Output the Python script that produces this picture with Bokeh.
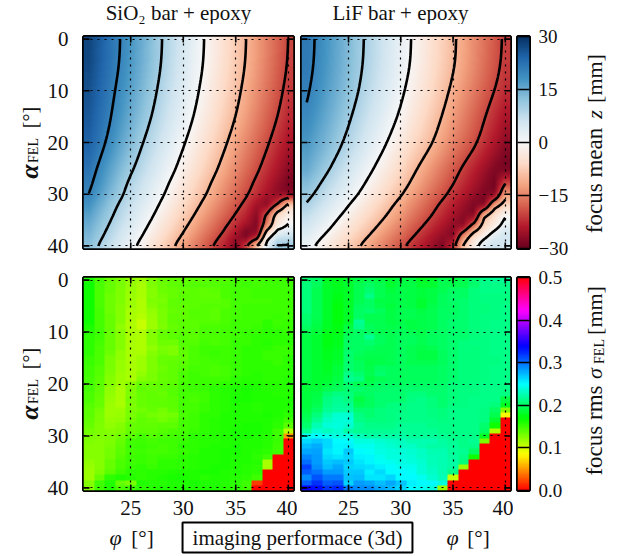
import numpy as np
from bokeh.plotting import figure
from bokeh.models import Range1d, FixedTicker, LinearColorMapper, Label
from bokeh.layouts import column, row
from bokeh.embed import file_html
from bokeh.resources import INLINE

phi_centres = list(range(21, 41))
alpha_rows_mean = [0, 5, 10, 15, 20, 25, 28, 30, 32, 34, 36, 38, 40]
phi_ticks = [25, 30, 35, 40]
alpha_ticks = [0, 10, 20, 30, 40]
mean_ticks = [30, 15, 0, -15, -30]
rms_ticks = [0.0, 0.1, 0.2, 0.3, 0.4, 0.5]
contour_levels = [-20, -10, 0, 10, 20]
title_left = "SiO₂ bar + epoxy"
title_right = "LiF bar + epoxy"
box_text = "imaging performace (3d)"

# focus mean z [mm], rows are alpha_rows_mean, columns phi 21..40
mean_sio2 = [
 [27.5,25,22.5,20,17.5,15,12.5,10,7.5,5,2.5,0,-2.5,-5,-7.5,-10,-12.5,-15,-17.5,-20],
 [27.25,24.75,22.25,19.75,17.25,14.75,12.25,9.75,7.25,4.75,2.25,-0.25,-2.75,-5.25,-7.75,-10.25,-12.75,-15.25,-17.75,-20.25],
 [26.25,23.75,21.25,18.75,16.25,13.75,11.25,8.75,6.25,3.75,1.25,-1.25,-3.75,-6.25,-8.75,-11.25,-13.75,-16.25,-18.75,-21.25],
 [25.5,23,20.4,17.7,15,12.5,10,7.5,5,2.5,0,-2.5,-5,-7.5,-10,-12.5,-15,-17.5,-20,-22.5],
 [24.5,21.8,19,16,13.2,10.5,8,5.5,3,0.5,-2,-4.5,-7,-9.5,-12,-14.5,-17,-19.5,-22,-24.5],
 [22.3,19.3,16.2,13.4,10.75,8.25,5.75,3.25,0.75,-1.75,-4.25,-6.75,-9.25,-11.75,-14.25,-16.75,-19.25,-21.75,-24.25,-26.75],
 [21,18,14.8,11.8,9,6.5,4,1.5,-1,-3.5,-6,-8.5,-11,-13.5,-16,-18.5,-21,-23.5,-26,-28.5],
 [20,16.8,13.6,10.9,8,5.5,3,0.5,-2,-4.5,-7,-9.5,-12,-14.5,-17,-19.5,-22,-24.5,-27,-28],
 [18.2,15,12,9.4,6.9,4.3,1.8,-0.8,-3.3,-5.9,-8.4,-11,-13.5,-16.1,-18.6,-21.2,-25,-28,-20,-7],
 [16.5,13.5,10.9,8.3,5.7,3.1,0.5,-2.1,-4.7,-7.3,-9.9,-12.5,-15.1,-17.7,-20.3,-22.9,-27,-18,-5,-2],
 [15,12.3,9.7,7,4.4,1.7,-0.9,-3.6,-6.2,-8.9,-11.5,-14.2,-16.8,-19.5,-22.1,-25,-28,-16,-4,0],
 [13.8,11.1,8.4,5.7,3,0.3,-2.4,-5.1,-7.8,-10.5,-13.2,-15.9,-18.6,-21.3,-25,-30,-26,-3,5,6],
 [12.4,9.6,6.9,4.1,1.4,-1.4,-4.1,-6.9,-9.6,-12.4,-15.1,-17.9,-20.6,-23.4,-28,-20,-8,3,11,11],
]
mean_lif = [
 [21.6,19.5,17.4,15.3,13.2,11,8.9,6.7,4.4,2.2,0,-2.3,-4.7,-7,-9.3,-11.6,-13.9,-16.2,-18.4,-20.7],
 [21.4,19.3,17.2,15.1,13,10.8,8.7,6.5,4.2,2,-0.2,-2.5,-4.9,-7.2,-9.5,-11.8,-14.1,-16.4,-18.7,-21],
 [20.6,18.5,16.4,14.3,12.2,10,7.7,5.5,3.2,0.9,-1.4,-3.7,-6,-8.5,-10.9,-13.2,-15.5,-17.8,-20,-22.2],
 [19.3,17.2,15,12.9,10.7,8.4,6.1,3.9,1.6,-0.7,-3,-5.4,-7.8,-10.2,-12.6,-15,-17.4,-19.8,-22.2,-24.6],
 [17.5,15.5,13.5,11.2,8.8,6.5,4,1.7,-0.7,-3,-5.3,-7.5,-9.7,-12.2,-14.6,-16.8,-19,-21.5,-24,-26.5],
 [15.4,13,10.6,8.2,5.8,3.4,1,-1.4,-3.8,-6.2,-8.6,-11,-13.4,-15.8,-18.2,-20.6,-23,-25.4,-27.8,-30],
 [13,10.7,8.3,6,3.6,1.3,-1.1,-3.4,-5.8,-8.1,-10.5,-12.8,-15.2,-17.5,-19.9,-22.2,-24.6,-26.9,-29,-20],
 [11.5,9.2,6.8,4.5,2.1,-0.2,-2.6,-4.9,-7.3,-9.6,-12,-14.3,-16.7,-19,-21.4,-23.7,-26,-28,-28,-13],
 [9.6,7.3,4.9,2.6,0.2,-2.1,-4.5,-6.8,-9.2,-11.5,-13.9,-16.2,-18.6,-20.9,-23.3,-25.6,-28,-29,-13,-7],
 [7.6,5.3,3,0.7,-1.6,-3.9,-6.2,-8.5,-10.8,-13.1,-15.4,-17.7,-20,-22.3,-24.6,-26.9,-28,-10.5,-5,-0.5],
 [5.8,3.5,1.2,-1.2,-3.5,-5.8,-8.1,-10.4,-12.7,-15,-17.3,-19.6,-21.9,-24.2,-26.5,-28,-18,-7,-3,2],
 [3.7,1.4,-0.9,-3.2,-5.5,-7.8,-10.1,-12.4,-14.7,-17,-19.3,-21.6,-23.9,-26.2,-28,-15,-6,-2,3,6],
 [1.6,-0.7,-3,-5.3,-7.6,-9.9,-12.2,-14.5,-16.8,-19.1,-21.4,-23.7,-26,-28,-22,-9,-2,4,7,5],
]

# focus rms sigma [mm x 1000], rows alpha 0..40, columns phi 21..40
rms_sio2 = [
 [160,148,135,130,122,118,128,135,138,138,140,140,142,142,148,148,148,150,150,150],
 [165,145,135,130,120,115,128,133,138,140,142,142,142,145,148,150,148,150,150,150],
 [165,145,135,128,120,115,125,133,135,138,140,138,140,145,148,148,150,150,150,150],
 [165,145,133,128,118,115,125,132,135,140,140,138,138,145,148,148,150,150,150,150],
 [165,145,133,128,118,112,128,130,138,140,140,140,140,142,148,148,148,148,150,150],
 [165,145,133,125,118,112,125,132,138,138,140,142,142,142,148,150,150,150,150,150],
 [165,148,133,125,115,112,122,130,135,138,142,142,140,145,148,150,150,150,150,150],
 [165,148,135,125,115,110,120,130,138,138,142,142,140,145,148,150,150,150,152,150],
 [165,148,135,125,112,105,118,130,138,140,140,142,142,145,150,150,150,155,150,152],
 [162,148,135,122,112,105,118,128,135,140,140,145,145,148,150,150,152,155,152,152],
 [158,150,135,125,115,112,125,135,138,140,140,145,145,148,150,152,152,155,155,152],
 [155,150,135,125,115,112,125,135,140,142,140,145,145,148,150,152,155,155,155,155],
 [155,148,135,125,115,112,125,133,133,142,142,148,145,148,152,152,155,158,155,155],
 [155,145,135,125,115,112,122,130,128,140,145,150,150,150,152,155,155,155,152,152],
 [155,145,133,122,115,115,125,132,128,138,145,150,152,150,152,155,155,152,152,152],
 [152,145,130,122,115,118,128,135,135,138,145,148,150,150,152,155,155,152,152,155],
 [152,145,130,120,115,118,128,135,138,140,145,148,148,150,152,155,155,155,152,155],
 [150,142,130,120,115,118,128,133,138,142,148,148,145,148,152,155,155,155,155,155],
 [150,142,128,118,115,122,130,135,138,145,150,148,145,148,152,155,158,155,155,155],
 [148,140,125,118,115,125,130,135,138,145,150,150,150,150,155,158,158,155,155,158],
 [148,140,125,118,125,135,135,138,140,148,150,152,152,155,158,160,160,158,158,158],
 [148,138,122,115,128,138,135,138,142,148,150,152,155,158,160,162,160,158,158,158],
 [145,138,122,115,128,135,138,135,142,148,148,150,155,158,160,162,160,160,158,158],
 [145,135,120,115,130,135,138,138,140,148,145,150,155,158,162,162,160,160,160,160],
 [142,135,118,115,128,135,138,138,140,148,148,152,155,158,160,160,158,160,160,160],
 [140,132,118,118,130,132,135,132,138,148,148,152,155,158,160,160,158,160,160,158],
 [140,130,118,120,130,135,132,130,132,145,150,155,155,160,160,160,160,162,160,155],
 [138,130,120,122,132,138,135,132,135,148,150,155,158,160,160,160,160,160,158,150],
 [135,128,122,125,135,138,138,140,140,148,150,155,158,160,160,162,162,160,155,140],
 [132,128,125,128,135,140,140,142,145,148,152,155,158,160,162,162,162,160,150,110],
 [130,128,128,132,140,148,142,145,148,150,155,155,158,160,162,162,160,158,150,50],
 [128,125,128,135,148,150,148,150,150,152,155,158,158,160,160,160,160,158,152,0],
 [125,125,130,138,150,152,150,148,150,155,155,158,160,160,162,160,160,158,150,0],
 [125,125,132,140,148,150,148,148,150,152,155,160,160,162,162,160,158,155,150,0],
 [125,125,132,142,150,152,150,152,152,155,158,160,160,162,160,160,155,150,0,0],
 [122,125,135,145,150,152,150,155,155,155,158,160,160,162,160,160,158,115,0,0],
 [120,125,135,145,152,155,152,155,155,155,158,160,162,162,160,158,155,115,0,0],
 [118,128,140,150,155,155,158,158,160,160,160,162,162,160,160,158,155,0,0,0],
 [118,135,155,160,158,155,158,160,162,162,160,158,160,160,158,155,150,0,0,0],
 [125,150,160,135,130,160,158,158,160,160,162,160,160,158,155,150,20,0,0,0],
 [125,150,160,145,150,155,158,160,160,160,160,160,160,158,155,150,0,0,0,0],
]
rms_lif = [
 [205,200,180,178,185,190,195,190,185,190,190,180,185,195,190,195,205,212,215,215],
 [208,198,182,178,185,195,200,195,185,190,190,185,185,195,195,195,205,212,212,212],
 [208,195,182,178,182,195,205,195,188,192,190,188,190,195,200,200,208,212,212,212],
 [208,195,182,176,182,195,212,195,190,192,190,188,190,198,202,200,208,210,210,210],
 [208,195,182,174,182,195,200,190,190,192,190,185,190,198,202,205,208,210,210,210],
 [208,195,182,172,182,198,200,192,188,192,190,185,192,198,200,205,208,208,210,212],
 [208,195,182,172,182,200,205,198,190,195,195,190,195,200,200,205,208,208,210,212],
 [205,195,182,172,182,200,195,195,190,195,195,192,195,200,202,205,208,210,210,212],
 [205,192,180,172,182,215,195,195,190,192,190,192,195,200,205,205,208,210,212,212],
 [200,190,180,174,190,212,198,195,192,195,190,192,195,200,205,205,208,210,212,212],
 [195,188,178,176,195,200,200,195,195,198,195,192,198,200,205,205,208,210,212,212],
 [190,185,175,178,198,200,215,198,195,198,198,195,198,200,205,205,208,210,212,212],
 [190,185,175,178,200,200,205,198,195,198,198,195,198,200,205,208,210,210,212,212],
 [190,185,176,180,200,200,198,195,195,198,195,192,195,200,205,208,208,210,212,212],
 [190,185,178,182,205,198,195,195,195,198,195,190,190,198,205,208,208,210,212,212],
 [190,185,178,182,205,195,192,192,195,198,195,190,190,198,205,208,208,210,210,212],
 [190,185,180,185,205,198,190,192,195,198,195,195,195,198,205,208,208,210,210,212],
 [190,185,180,188,205,198,192,200,198,198,198,198,198,200,205,208,208,210,212,212],
 [190,185,182,188,212,205,195,205,198,198,198,198,198,200,205,208,208,210,212,212],
 [190,185,185,190,215,210,190,195,198,198,198,198,198,200,205,208,208,210,212,212],
 [188,185,188,195,205,195,195,200,200,200,200,200,200,202,208,208,210,212,212,212],
 [188,188,195,198,205,205,200,202,205,205,205,205,205,205,208,210,210,212,212,212],
 [188,190,205,210,208,198,200,205,205,205,208,208,205,205,208,210,210,212,212,210],
 [188,192,210,215,210,190,198,205,205,205,210,212,208,205,208,210,212,212,212,190],
 [188,195,212,218,215,195,198,205,208,210,212,212,208,205,210,210,212,212,208,180],
 [190,200,215,220,220,205,205,208,210,210,212,212,210,208,212,212,212,210,200,125],
 [195,208,225,235,235,210,205,208,210,212,212,212,210,208,212,212,212,210,195,85],
 [198,215,232,238,240,212,208,208,210,212,212,212,212,210,212,212,212,210,185,0],
 [205,225,238,240,235,218,212,212,212,215,215,215,212,212,212,212,212,205,165,0],
 [215,235,230,235,222,215,215,215,215,218,215,215,215,212,212,212,212,200,110,0],
 [245,250,245,240,240,228,222,222,222,222,218,218,218,215,212,212,212,180,0,0],
 [262,268,262,250,250,240,240,235,232,230,225,225,225,220,215,212,215,130,0,0],
 [272,278,262,252,255,245,245,240,235,232,232,225,222,222,218,212,212,0,0,0],
 [280,282,258,252,268,250,248,242,240,238,235,232,225,225,218,215,200,0,0,0],
 [292,285,262,258,265,255,252,245,240,240,238,232,228,225,220,212,165,0,0,0],
 [300,285,268,272,268,258,252,248,245,242,240,235,228,225,222,208,0,0,0,0],
 [315,288,272,280,265,262,260,255,250,245,245,238,230,225,222,120,0,0,0,0],
 [305,298,285,285,268,268,255,262,250,250,248,238,232,225,212,0,0,0,0,0],
 [290,310,295,295,270,272,258,258,265,250,250,245,235,228,105,0,0,0,0,0],
 [305,322,305,310,265,285,280,272,280,270,255,250,250,240,0,0,0,0,0,0],
 [340,335,320,325,295,290,290,280,275,265,250,245,240,120,0,0,0,0,0,0],
]

RDBU_NODES = ["#67001f","#b2182b","#d6604d","#f4a582","#fddbc7","#f7f7f7","#d1e5f0","#92c5de","#4393c3","#2166ac","#053061"]
HSV_POS = [0, 0.158, 0.174, 0.333, 0.349, 0.5, 0.666, 0.683, 0.841, 0.857, 1.0]
HSV_NODES = ["#ff0000","#fff000","#f8ff00","#08ff00","#00ff10","#00ffff","#0010ff","#0800ff","#f800ff","#ff00f0","#ff0008"]


def make_palette(nodes, pos=None):
    rgb = np.array([[int(c[i:i + 2], 16) for i in (1, 3, 5)] for c in nodes], dtype=float)
    pos = np.linspace(0, 1, len(nodes)) if pos is None else pos
    t = np.linspace(0, 1, 256)
    out = np.stack([np.interp(t, pos, rgb[:, k]) for k in range(3)], axis=1).round().astype(int)
    return ["#%02x%02x%02x" % tuple(c) for c in out]


mean_mapper = LinearColorMapper(palette=make_palette(RDBU_NODES), low=-30, high=30)
rms_mapper = LinearColorMapper(palette=make_palette(HSV_NODES, HSV_POS), low=0, high=0.5)

FONT = "Liberation Serif"


def blur(f, ys, sigma):
    step = ys[1] - ys[0]
    half = int(round(2.5 * sigma / step))
    w = np.exp(-0.5 * (np.arange(-half, half + 1) * step / sigma) ** 2)
    w /= w.sum()
    pad = np.pad(f, ((half, half), (0, 0)), mode="edge")
    return np.stack([np.convolve(pad[:, j], w, mode="valid") for j in range(f.shape[1])], axis=1)


def sample_field(table, rows, xs, ys):
    """Display resampling of the table (as imshow's interpolation does), softened along alpha."""
    t = np.array(table, dtype=float)
    by_col = np.stack([np.interp(ys, rows, t[:, j]) for j in range(t.shape[1])], axis=1)
    f = np.stack([np.interp(xs, phi_centres, by_col[i]) for i in range(len(ys))], axis=0)
    weight = np.clip((ys - 20) / 8, 0, 1).reshape(-1, 1)
    return (1 - weight) * blur(f, ys, 2.0) + weight * blur(f, ys, 0.7)


def panel(left, right, top, bottom, fw, fh, xlabels, ylabels):
    p = figure(x_range=Range1d(20.5, 40.5), y_range=Range1d(40.5, -0.5),
               frame_width=fw, frame_height=fh, min_border_left=left, min_border_right=right,
               min_border_top=top, min_border_bottom=bottom,
               toolbar_location=None, output_backend="svg",
               outline_line_color="black", outline_line_width=3, background_fill_color="white")
    p.xaxis.ticker = FixedTicker(ticks=phi_ticks)
    p.yaxis.ticker = FixedTicker(ticks=alpha_ticks)
    for ax in list(p.xaxis) + list(p.yaxis):
        ax.axis_line_color = None
        ax.major_tick_line_color = None
        ax.minor_tick_line_color = None
        ax.major_label_text_font = FONT
        ax.major_label_text_font_size = "21px"
        ax.major_label_text_color = "#111111"
        ax.major_label_standoff = 4
    p.yaxis.major_label_standoff = 9
    p.xaxis.visible = xlabels
    p.yaxis.visible = ylabels
    for g in (p.xgrid, p.ygrid):
        g.grid_line_color = "black"
        g.grid_line_dash = "2 5"
        g.grid_line_width = 1.2
        g.level = "overlay"
    p.xgrid.ticker = FixedTicker(ticks=phi_ticks)
    p.ygrid.ticker = FixedTicker(ticks=alpha_ticks)
    return p


def add_ticks(p):
    # inward ticks on all four sides; the half outside the frame is clipped
    for x in (20.5, 40.5):
        p.scatter([x] * len(alpha_ticks), alpha_ticks, marker="dash", size=12, line_color="black", line_width=1.6)
    for y in (-0.5, 40.5):
        p.scatter(phi_ticks, [y] * len(phi_ticks), marker="dash", size=12, angle=float(np.pi / 2),
                  line_color="black", line_width=1.6)


def add_mean(p, table):
    xs = np.linspace(20.5, 40.5, 210)
    ys = np.linspace(-0.5, 40.5, 212)
    p.image(image=[sample_field(table, alpha_rows_mean, xs, ys)], x=20.5, y=-0.5, dw=20, dh=41,
            color_mapper=mean_mapper)
    cx = np.linspace(21, 40, 191)
    cy = np.linspace(0, 40, 161)
    p.contour(cx, cy, sample_field(table, alpha_rows_mean, cx, cy), levels=contour_levels,
              line_color="black", line_width=2.6, fill_color=None)
    add_ticks(p)


def add_rms(p, table):
    p.image(image=[np.array(table, dtype=float) / 1000], x=20.5, y=-0.5, dw=20, dh=41, color_mapper=rms_mapper)
    add_ticks(p)


def colorbar(mapper, low, high, ticks, overrides, top, bottom, fh):
    p = figure(x_range=Range1d(0, 1), y_range=Range1d(low, high), frame_width=12, frame_height=fh,
               min_border_left=4, min_border_right=47, min_border_top=top, min_border_bottom=bottom,
               y_axis_location="right", toolbar_location=None, output_backend="svg",
               outline_line_color="black", outline_line_width=3)
    p.xaxis.visible = False
    p.grid.visible = False
    levels = np.linspace(low, high, 256).reshape(256, 1)
    p.image(image=[levels], x=0, y=low, dw=1, dh=high - low, color_mapper=mapper)
    ax = p.yaxis[0]
    ax.ticker = FixedTicker(ticks=ticks)
    ax.major_label_overrides = overrides
    ax.axis_line_color = None
    ax.major_tick_in = 12
    ax.major_tick_out = 0
    ax.minor_tick_line_color = None
    ax.major_tick_line_color = "black"
    ax.major_tick_line_width = 1.5
    ax.major_label_text_font = FONT
    ax.major_label_text_font_size = "19px"
    ax.major_label_text_color = "#111111"
    ax.major_label_standoff = 9
    return p


def strip(w, h):
    # text only: Labels are drawn here so that no glyph clip of the SVG canvas affects them
    s = figure(width=w, height=h, x_range=Range1d(0, 1), y_range=Range1d(0, 1), min_border=0,
               toolbar_location=None, output_backend="svg", outline_line_color=None)
    s.axis.visible = False
    s.grid.visible = False
    return s


def txt(p, x0, y0, px, py, text, size, angle=0.0, style="normal"):
    p.add_layout(Label(x=px - x0, y=py - y0, x_units="canvas", y_units="canvas", text=text,
                       text_font=FONT, text_font_size=f"{size}px", text_font_style=style,
                       text_color="#111111", angle=float(angle), angle_units="rad",
                       text_align="center", text_baseline="middle"))


HALF_PI = np.pi / 2

top_strip = strip(624, 24)
txt(top_strip, 0, 0, 178, 12, title_left, 21)
txt(top_strip, 0, 0, 400, 12, title_right, 21)

left_strip = strip(44, 496)
for base in (0, 241):
    txt(left_strip, 0, 24, 29, 171 + base, "α", 26, HALF_PI, "bold italic")
    txt(left_strip, 0, 24, 33, 150 + base, "FEL", 14, HALF_PI)
    txt(left_strip, 0, 24, 29, 117 + base, "[°]", 20, HALF_PI)

right_strip = strip(48, 496)
txt(right_strip, 576, 24, 594, 180, "focus mean", 23, HALF_PI)
txt(right_strip, 576, 24, 594, 114, "z", 22, HALF_PI, "italic")
txt(right_strip, 576, 24, 594, 78, "[mm]", 22, HALF_PI)
txt(right_strip, 576, 24, 594, 430, "focus rms", 23, HALF_PI)
txt(right_strip, 576, 24, 594, 373, "σ", 22, HALF_PI, "italic")
txt(right_strip, 576, 24, 599, 351, "FEL", 14, HALF_PI)
txt(right_strip, 576, 24, 594, 310, "[mm]", 22, HALF_PI)

tl = panel(39, 4, 12, 14, 210, 212, False, True)
add_mean(tl, mean_sio2)
tr = panel(4, 3, 12, 14, 209, 212, False, False)
add_mean(tr, mean_lif)
cb1 = colorbar(mean_mapper, -30, 30, mean_ticks, {-30: "−30", -15: "−15", 0: "0", 15: "15", 30: "30"}, 12, 14, 212)

bl = panel(39, 4, 15, 30, 210, 213, True, True)
add_rms(bl, rms_sio2)
br = panel(4, 3, 15, 30, 209, 213, True, False)
add_rms(br, rms_lif)
cb2 = colorbar(rms_mapper, 0, 0.5, rms_ticks, {t: f"{t:.1f}" for t in rms_ticks}, 15, 30, 213)

bottom_strip = strip(624, 34)
txt(bottom_strip, 0, 520, 115, 537, "φ", 22, 0, "italic")
txt(bottom_strip, 0, 520, 142, 537, "[°]", 21)
txt(bottom_strip, 0, 520, 452, 537, "φ", 22, 0, "italic")
txt(bottom_strip, 0, 520, 478, 537, "[°]", 21)
bottom_strip.add_layout(Label(x=297, y=17, x_units="canvas", y_units="canvas", text=box_text,
                              text_font=FONT, text_font_size="21px", text_color="#111111",
                              text_align="center", text_baseline="middle", border_line_color="black",
                              border_line_width=2, background_fill_color="white", padding=(10, 3)))

panels = column(row(tl, tr, cb1, spacing=0), row(bl, br, cb2, spacing=0), spacing=0)
layout = column(top_strip, row(left_strip, panels, right_strip, spacing=0), bottom_strip, spacing=0)
open("out.html", "w").write(file_html(layout, INLINE))
